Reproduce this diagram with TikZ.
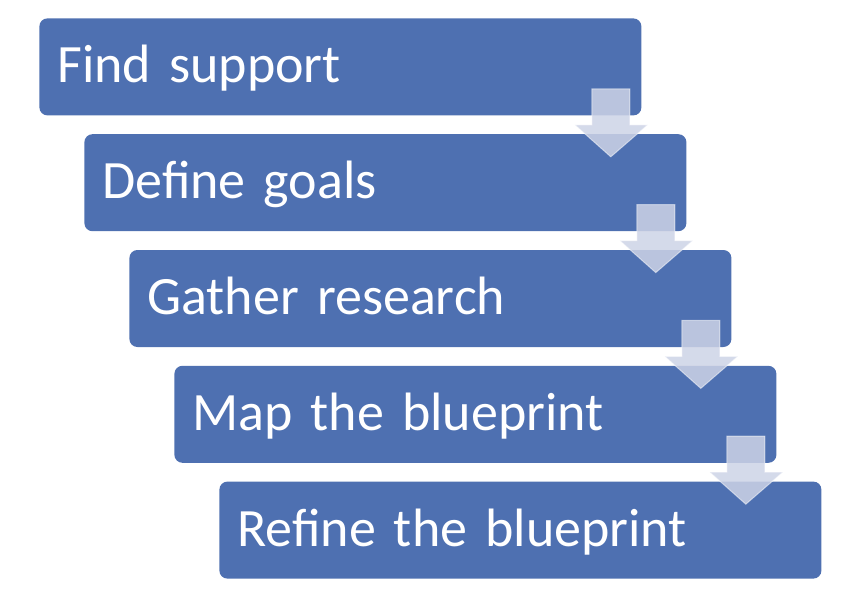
\documentclass[tikz,border=0pt]{standalone}
\usepackage{fontspec}
\setmainfont{Carlito}
\usetikzlibrary{positioning}
\definecolor{stageblue}{HTML}{4E70B1}
\definecolor{arrowgray}{HTML}{CDD3E6}

\begin{document}
\begin{tikzpicture}[
  x=0.5pt, y=-0.5pt,
  stage/.style={rectangle, fill=stageblue, rounded corners=4pt, text=white,
                font=\fontsize{27}{29}\selectfont, text width=283pt,
                inner xsep=9pt, inner ysep=0pt, minimum height=48.5pt,
                text height=21pt, text depth=5pt, align=left},
  downarrow/.style={fill=arrowgray, fill opacity=0.85, draw=white,
                    draw opacity=0.5, line width=0.5pt}
]
  \useasboundingbox (0,0) rectangle (864,589);
  \node[stage, anchor=north west] (s1) at (39,18) {Find support};
  \node[stage, below=9pt of s1.south west, anchor=north west, xshift=22.5pt] (s2) {Define goals};
  \node[stage, below=9pt of s2.south west, anchor=north west, xshift=22.5pt] (s3) {Gather research};
  \node[stage, below=9pt of s3.south west, anchor=north west, xshift=22.5pt] (s4) {Map the blueprint};
  \node[stage, below=9pt of s4.south west, anchor=north west, xshift=22.5pt] (s5) {Refine the blueprint};
  % arrows between the stages
  \foreach \a in {s1,s2,s3,s4}
    \draw[downarrow, shift={(\a.south east)}] (-50,-27) -- (-12,-27) -- (-12,9)
      -- (6,9) -- (-31,41) -- (-67,9) -- (-50,9) -- cycle;
\end{tikzpicture}
\end{document}
